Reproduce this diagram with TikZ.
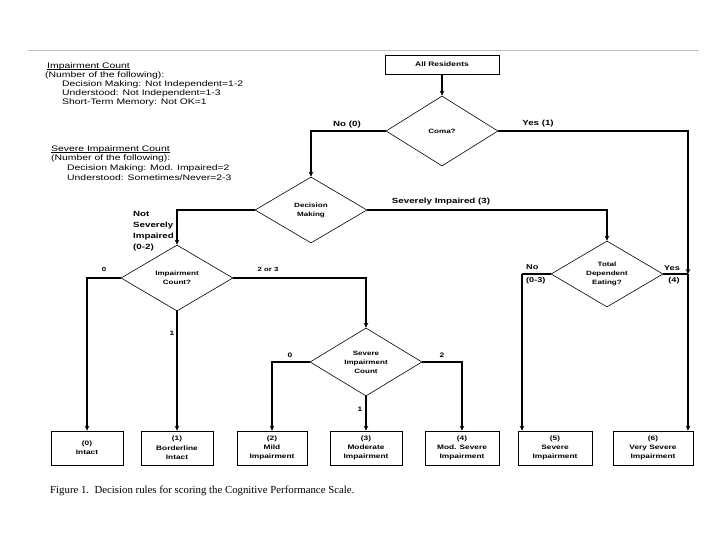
\documentclass[tikz,border=0pt]{standalone}
\usepackage{fontspec}
\setmainfont{Liberation Serif}
\newfontfamily\lab[FakeStretch=1.3]{Liberation Sans}
\usetikzlibrary{shapes.geometric,arrows.meta}
\begin{document}
\begin{tikzpicture}[x=1pt,y=-1pt,
  dia/.style={draw, line width=0.6pt, shape=diamond, aspect=1.7, inner sep=0pt,
    minimum width=112pt, minimum height=66pt,
    font=\lab\bfseries\fontsize{6.2}{9}\selectfont, align=center},
  res/.style={draw, line width=0.7pt, minimum height=34pt, inner sep=0pt,
    font=\lab\bfseries\fontsize{6.4}{9.3}\selectfont, align=center},
  conn/.style={line width=1.7pt, -{Stealth[length=5pt,width=4.5pt]}},
  thin/.style={line width=1.1pt},
  seg/.style={line width=1.7pt},
  lbl/.style={font=\lab\bfseries\fontsize{7.5}{11}\selectfont, inner sep=0pt},
  note/.style={font=\lab\fontsize{8}{9}\selectfont, inner sep=0pt, anchor=west},
  uline/.style={line width=0.5pt}]
\fill[white] (0,0) rectangle (720,540);
\useasboundingbox (0,0) rectangle (720,540);
\draw[gray!50, line width=0.8pt] (28,50) -- (699,50);

% notes
\node[note] (n1) at (47,66) {Impairment Count};
\draw[uline] ([yshift=-1.3pt]n1.base west) -- ([yshift=-1.3pt]n1.base east);
\node[note] (n2) at (45,75) {(Number of the following):};
\node[note] (n3) at (62,84) {Decision Making: Not Independent=1-2};
\node[note] (n4) at (62,93) {Understood: Not Independent=1-3};
\node[note] (n5) at (62,102) {Short-Term Memory: Not OK=1};
\node[note] (m1) at (51,149) {Severe Impairment Count};
\draw[uline] ([yshift=-1.3pt]m1.base west) -- ([yshift=-1.3pt]m1.base east);
\node[note] (m2) at (51,158) {(Number of the following):};
\node[note] (m3) at (67,168) {Decision Making: Mod. Impaired=2};
\node[note] (m4) at (67,178) {Understood: Sometimes/Never=2-3};

% decision nodes
\node[draw, line width=0.7pt, minimum width=114pt, minimum height=19pt, inner sep=0pt,
  font=\lab\bfseries\fontsize{6.5}{9}\selectfont] (all) at (442,64.5) {All Residents};
\node[dia, minimum height=70pt] (coma) at (442,131) {Coma?};
\node[dia] (dm) at (311,210) {Decision\\Making};
\node[dia] (ic) at (177,278) {Impairment\\Count?};
\node[dia, minimum height=68pt] (sic) at (366,362) {Severe\\Impairment\\Count};
\node[dia] (tde) at (607,274) {Total\\Dependent\\Eating?};

% result boxes
\node[res, minimum width=72pt] (b0) at (87,448) {(0)\\Intact};
\node[res, minimum width=72pt] (b1) at (177,448) {(1)\\Borderline\\Intact};
\node[res, minimum width=70pt] (b2) at (272,448) {(2)\\Mild\\Impairment};
\node[res, minimum width=72pt] (b3) at (366,448) {(3)\\Moderate\\Impairment};
\node[res, minimum width=74pt] (b4) at (462,448) {(4)\\Mod. Severe\\Impairment};
\node[res, minimum width=74pt] (b5) at (555,448) {(5)\\Severe\\Impairment};
\node[res, minimum width=80pt] (b6) at (653,448) {(6)\\Very Severe\\Impairment};

% junction coordinates
\coordinate (jy) at (688,274);
\coordinate (tl) at (522,274);

% connectors
\draw[conn] (all) -- (coma);
\draw[conn] (coma.west) -| (dm.north);
\draw[conn, thin] (coma.east) -| (jy);
\draw[seg] (tde.east) -- (jy);
\draw[conn, thin] (jy) -- (jy |- b6.north);
\draw[conn] (dm.west) -| (ic.north);
\draw[conn] (dm.east) -| (tde.north);
\draw[conn, thin] (ic.west) -| (b0.north);
\draw[conn] (ic.south) -- (b1.north);
\draw[conn, thin] (ic.east) -| (sic.north);
\draw[conn] (sic.west) -| (b2.north);
\draw[conn] (sic.south) -- (b3.north);
\draw[conn] (sic.east) -| (b4.north);
\draw[seg] (tde.west) -- (tl);
\draw[conn] (tl) -- (tl |- b5.north);

% labels
\node[lbl] (lno) at (347,125) {No (0)};
\node[lbl] (lyes) at (538,124) {Yes (1)};
\node[lbl, anchor=west, align=left, font=\lab\bfseries\fontsize{7.5}{11.2}\selectfont] (lnsi) at (133,231) {Not\\Severely\\Impaired\\(0-2)};
\node[lbl] (lsi) at (441,202) {Severely Impaired (3)};
\node[lbl, font=\lab\bfseries\fontsize{6}{8}\selectfont] (l0) at (104,269) {0};
\node[lbl, font=\lab\bfseries\fontsize{6}{8}\selectfont] (l23) at (268,269) {2 or 3};
\node[lbl, font=\lab\bfseries\fontsize{6.5}{8}\selectfont] (l1) at (172,333) {1};
\node[lbl, font=\lab\bfseries\fontsize{6.5}{8}\selectfont] (s0) at (290,355) {0};
\node[lbl, font=\lab\bfseries\fontsize{6.5}{8}\selectfont] (s2) at (442,355) {2};
\node[lbl, font=\lab\bfseries\fontsize{6.5}{8}\selectfont] (s1) at (360,409) {1};
\node[lbl, anchor=west, font=\lab\bfseries\fontsize{7}{8}\selectfont] (tno) at (526,267) {No};
\node[lbl, anchor=west, font=\lab\bfseries\fontsize{7}{8}\selectfont] (tno2) at (526,281) {(0-3)};
\node[lbl, font=\lab\bfseries\fontsize{7}{8}\selectfont] (tyes) at (672,268) {Yes};
\node[lbl, font=\lab\bfseries\fontsize{7}{8}\selectfont] (tyes2) at (674,281) {(4)};

% caption
\node[anchor=west, inner sep=0pt, font=\fontsize{10.8}{12}\selectfont] (cap) at (50,491)
  {Figure 1.\ \ Decision rules for scoring the Cognitive Performance Scale.};
\end{tikzpicture}
\end{document}
